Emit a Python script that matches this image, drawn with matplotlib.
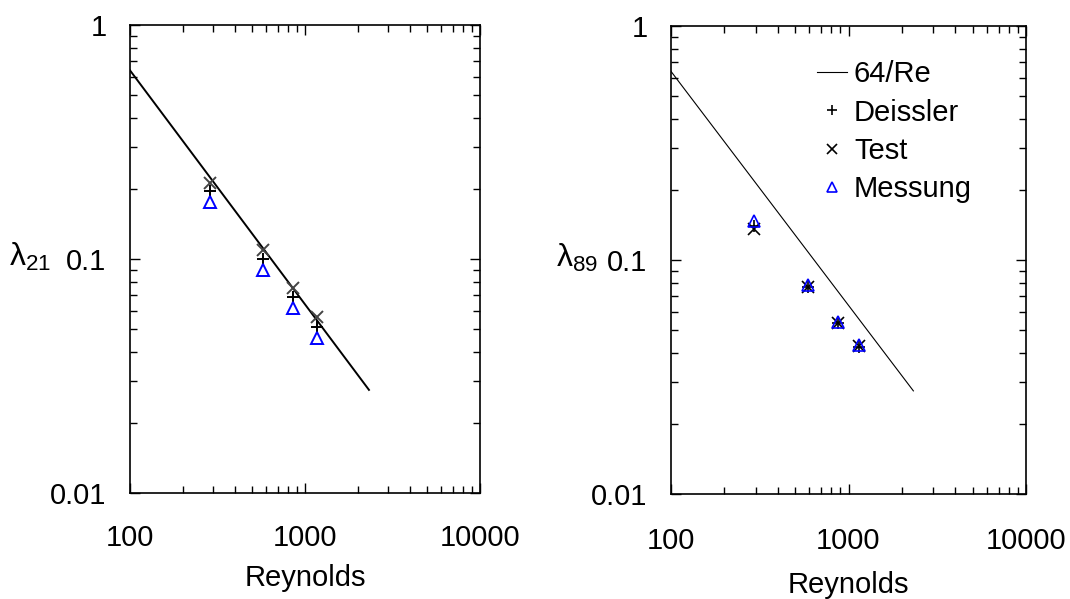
"""
Reibungsbeiwert lambda ueber Reynolds-Zahl, zwei Kanaele (21 und 89).
"""

import numpy as np
import matplotlib
matplotlib.use("Agg")
import matplotlib.pyplot as plt
from matplotlib.ticker import LogLocator, FixedFormatter, NullFormatter, FixedLocator

plt.rcParams["font.family"] = ["Liberation Sans", "DejaVu Sans"]
plt.rcParams["mathtext.fontset"] = "custom"
plt.rcParams["mathtext.rm"] = "Liberation Sans"
plt.rcParams["mathtext.it"] = "Liberation Sans"
plt.rcParams["mathtext.default"] = "regular"

# Laminar reference 64/Re
re_line = [100, 2320]

# Kanal 21
re_21 = [288, 578, 858, 1165]
deissler_21 = [0.195, 0.100, 0.069, 0.051]
test_21 = [0.211, 0.109, 0.075, 0.0565]
messung_21 = [0.175, 0.090, 0.062, 0.046]

# Kanal 89
re_89 = [295, 590, 870, 1150]
deissler_89 = [0.140, 0.077, 0.054, 0.0425]
test_89 = [0.136, 0.077, 0.054, 0.043]
messung_89 = [0.147, 0.078, 0.0545, 0.0435]

x_ticks = [100, 1000, 10000]
x_labels = ["100", "1000", "10000"]
y_ticks = [0.01, 0.1, 1]
y_labels = ["0.01", "0.1", "1"]

FS = 21


def style_axes(ax, ylabel, ylab_xy, xpad, xlabpad):
    ax.set_xscale("log")
    ax.set_yscale("log")
    ax.set_xlim(100, 10000)
    ax.set_ylim(0.01, 1)
    ax.xaxis.set_major_locator(FixedLocator(x_ticks))
    ax.xaxis.set_major_formatter(FixedFormatter(x_labels))
    ax.yaxis.set_major_locator(FixedLocator(y_ticks))
    ax.yaxis.set_major_formatter(FixedFormatter(y_labels))
    ax.xaxis.set_minor_locator(LogLocator(base=10, subs=np.arange(2, 10)))
    ax.yaxis.set_minor_locator(LogLocator(base=10, subs=np.arange(2, 10)))
    ax.xaxis.set_minor_formatter(NullFormatter())
    ax.yaxis.set_minor_formatter(NullFormatter())
    ax.tick_params(which="both", direction="in", top=True, right=True,
                   width=1.0, labelsize=FS)
    ax.tick_params(which="major", length=7)
    ax.tick_params(which="minor", length=5)
    ax.tick_params(axis="y", which="major", pad=17)
    ax.tick_params(axis="x", which="major", pad=xpad)
    for s in ax.spines.values():
        s.set_linewidth(1.2)
    ax.set_xlabel("Reynolds", fontsize=FS, labelpad=xlabpad)
    ax.set_ylabel(ylabel, fontsize=23, rotation=0)
    ax.yaxis.set_label_coords(*ylab_xy)


fig = plt.figure(figsize=(10.70, 5.99), dpi=100)
ax1 = fig.add_axes([130 / 1070, 1 - 493 / 599, 350 / 1070, 468 / 599])
ax2 = fig.add_axes([671 / 1070, 1 - 494 / 599, 355 / 1070, 468 / 599])

ms = 9
re_arr = np.array(re_line, dtype=float)

ax1.plot(re_arr, 64 / re_arr, color="black", lw=1.4)
ax1.plot(re_21, deissler_21, ls="none", marker="+", ms=ms, mew=1.4, color="black")
ax1.plot(re_21, test_21, ls="none", marker="x", ms=ms, mew=1.4, color="#444444")
ax1.plot(re_21, messung_21, ls="none", marker="^", ms=ms, mew=1.4,
         mfc="none", mec="blue")
style_axes(ax1, r"$\lambda_{21}$", (-0.285, 0.47), 22, 9)

ax2.plot(re_arr, 64 / re_arr, color="black", lw=0.8, label="64/Re")
ax2.plot(re_89, deissler_89, ls="none", marker="+", ms=ms, mew=1.2,
         color="black", label="Deissler")
ax2.plot(re_89, test_89, ls="none", marker="x", ms=ms, mew=1.2,
         color="black", label="Test")
ax2.plot(re_89, messung_89, ls="none", marker="^", ms=ms, mew=1.2,
         mfc="none", mec="blue", label="Messung")
style_axes(ax2, r"$\lambda_{89}$", (-0.265, 0.47), 24, 11)

ax2.legend(loc="upper left", bbox_to_anchor=(0.355, 0.97), frameon=False,
           fontsize=FS, handlelength=1.0, handletextpad=0.25,
           labelspacing=0.35, borderpad=0.2, markerscale=0.8)

fig.savefig("out.png", dpi=100)
